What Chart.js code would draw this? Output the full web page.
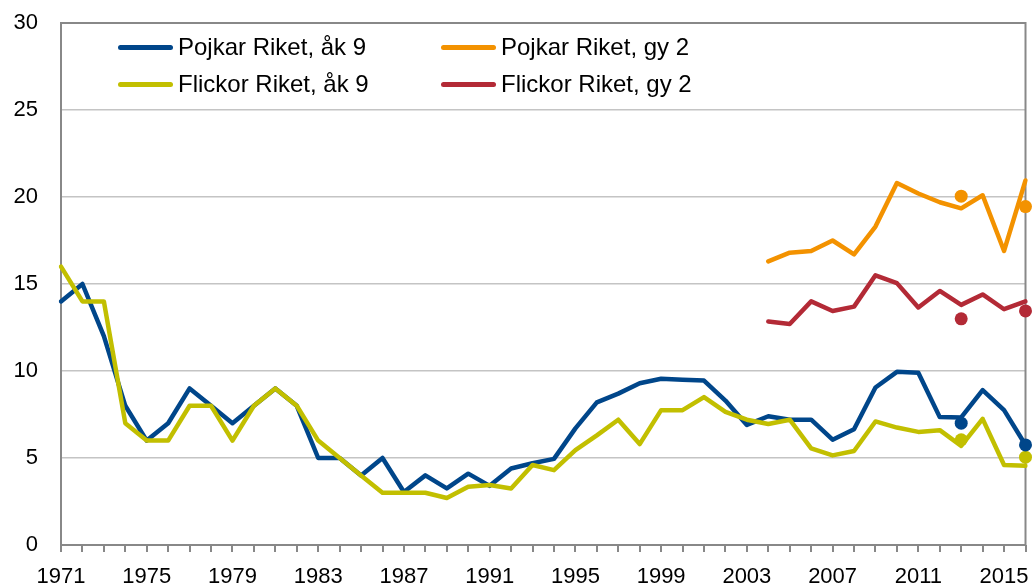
<!DOCTYPE html>
<html>
<head>
<meta charset="utf-8">
<script src="https://cdn.jsdelivr.net/npm/chart.js@4/dist/chart.umd.min.js"></script>
<style>
	body { margin:0; background:#fff; }
	#wrap { position:relative; width:1032px; height:584px; }
	#legend { position:absolute; left:0; top:0; font-family:"Liberation Sans", Arial, sans-serif; font-size:24px; color:#000; }
	#legend .item { position:absolute; white-space:nowrap; line-height:28px; }
	#legend .swatch { position:absolute; top:12px; left:0; width:55px; height:5px; border-radius:3px; }
	#legend .txt { position:absolute; left:60px; top:0; }
</style>
</head>
<body>
<div id="wrap">
	<canvas id="lineChart"></canvas>
	<div id="legend"></div>
</div>
<script>
// categories
var years = ['1971','1972','1973','1974','1975','1976','1977','1978','1979','1980',
	'1981','1982','1983','1984','1985','1986','1987','1988','1989','1990',
	'1991','1992','1993','1994','1995','1996','1997','1998','1999','2000',
	'2001','2002','2003','2004','2005','2006','2007','2008','2009','2010',
	'2011','2012','2013','2014','2015','2016'];
var gyYears = ['2004','2005','2006','2007','2008','2009','2010','2011','2012','2013','2014','2015','2016'];
var dotYears = ['2013','2016'];

// series, ak 9 (1971-2016)
var pojkarAk9 = [14,15,12,8,6,7,9,8,7,8,
	9,8,5,5,4,5,3.05,4,3.25,4.1,
	3.4,4.4,4.7,4.95,6.7,8.2,8.7,9.3,9.55,9.5,
	9.45,8.3,6.9,7.4,7.2,7.2,6.05,6.65,9.05,9.95,
	9.9,7.35,7.33,8.9,7.75,5.75];
var flickorAk9 = [16,14,14,7,6,6,8,8,6,8,
	9,8,6,5,4,3,3,3,2.7,3.35,
	3.45,3.25,4.6,4.3,5.45,6.3,7.2,5.8,7.75,7.75,
	8.5,7.65,7.2,6.95,7.2,5.55,5.15,5.4,7.1,6.75,
	6.5,6.6,5.7,7.25,4.6,4.55];

// series, gy 2 (2004-2016)
var pojkarGy2 = [16.3,16.8,16.9,17.5,16.7,18.3,20.8,20.2,19.7,19.35,20.1,16.9,20.95];
var flickorGy2 = [12.85,12.7,14.0,13.45,13.7,15.5,15.05,13.65,14.6,13.8,14.4,13.55,14.0];

// separate points 2013, 2016
var pojkarAk9Dots = [7.0, 5.75];
var flickorAk9Dots = [6.05, 5.05];
var pojkarGy2Dots = [20.05, 19.45];
var flickorGy2Dots = [13.0, 13.45];

var yTicks = [0,5,10,15,20,25,30];

var colBlue = '#00468a';
var colYellow = '#c2bf00';
var colOrange = '#f39200';
var colRed = '#b32a36';

function pairs(xs, ys){
	return xs.map(function(x, i){ return {x: x, y: ys[i]}; });
}

function lineSet(label, data, color, order){
	return {
		label: label,
		data: data,
		borderColor: color,
		backgroundColor: color,
		borderWidth: 4.5,
		pointRadius: 0,
		borderJoinStyle: 'round',
		borderCapStyle: 'round',
		tension: 0,
		order: order
	};
}

function dotSet(data, color){
	return {
		label: '',
		data: data,
		showLine: false,
		borderColor: color,
		backgroundColor: color,
		pointRadius: 6.5,
		pointBorderWidth: 0,
		clip: false,
		order: 0
	};
}

// plot frame
var frame = {
	id: 'frame',
	beforeDatasetsDraw: function(chart){
		var a = chart.chartArea, ctx = chart.ctx;
		ctx.save();
		ctx.strokeStyle = '#888888';
		ctx.lineWidth = 2;
		ctx.strokeRect(a.left, a.top, a.right - a.left, a.bottom - a.top);
		ctx.restore();
	}
};

var ctx = document.getElementById('lineChart').getContext('2d');
new Chart(ctx, {
	type: 'line',
	data: {
		labels: years,
		datasets: [
			lineSet('Pojkar Riket, åk 9', pojkarAk9, colBlue, 2),
			lineSet('Flickor Riket, åk 9', flickorAk9, colYellow, 1),
			lineSet('Pojkar Riket, gy 2', pairs(gyYears, pojkarGy2), colOrange, 3),
			lineSet('Flickor Riket, gy 2', pairs(gyYears, flickorGy2), colRed, 3),
			dotSet(pairs(dotYears, pojkarAk9Dots), colBlue),
			dotSet(pairs(dotYears, flickorAk9Dots), colYellow),
			dotSet(pairs(dotYears, pojkarGy2Dots), colOrange),
			dotSet(pairs(dotYears, flickorGy2Dots), colRed)
		]
	},
	options: {
		responsive: true,
		maintainAspectRatio: false,
		animation: false,
		layout: { padding: { top: 23, right: 6, left: 0, bottom: 0 } },
		plugins: {
			legend: { display: false },
			tooltip: { enabled: false }
		},
		scales: {
			x: {
				offset: false,
				afterFit: function(scale){
					scale.height = 39;
					scale.paddingLeft = 0;
					scale.paddingRight = 0;
				},
				border: { display: false },
				grid: { drawOnChartArea: false, tickLength: 7, tickColor: '#888888', lineWidth: 2 },
				ticks: {
					autoSkip: false,
					maxRotation: 0,
					padding: 12,
					color: '#000',
					font: { family: '"Liberation Sans", Arial, sans-serif', size: 22 },
					callback: function(v, i){ return i % 4 === 0 ? years[i] : ''; }
				}
			},
			y: {
				min: 0,
				max: 30,
				afterFit: function(scale){
					scale.width = 61;
					scale.paddingTop = 0;
					scale.paddingBottom = 0;
				},
				afterBuildTicks: function(scale){ scale.ticks = yTicks.map(function(v){ return {value: v}; }); },
				border: { display: false },
				grid: { color: '#c4c4c4', lineWidth: 1.5, drawTicks: false },
				ticks: {
					padding: 23,
					color: '#000',
					font: { family: '"Liberation Sans", Arial, sans-serif', size: 22 }
				}
			}
		}
	},
	plugins: [frame]
});

// legend, two columns inside the plot
var legendItems = [
	{ text: 'Pojkar Riket, åk 9', color: colBlue, left: 118, top: 33 },
	{ text: 'Flickor Riket, åk 9', color: colYellow, left: 118, top: 70 },
	{ text: 'Pojkar Riket, gy 2', color: colOrange, left: 441, top: 33 },
	{ text: 'Flickor Riket, gy 2', color: colRed, left: 441, top: 70 }
];
var legendBox = document.getElementById('legend');
legendItems.forEach(function(it){
	var d = document.createElement('div');
	d.className = 'item';
	d.style.left = it.left + 'px';
	d.style.top = it.top + 'px';
	d.innerHTML = '<span class="swatch" style="background:' + it.color + '"></span><span class="txt">' + it.text + '</span>';
	legendBox.appendChild(d);
});
</script>
</body>
</html>
